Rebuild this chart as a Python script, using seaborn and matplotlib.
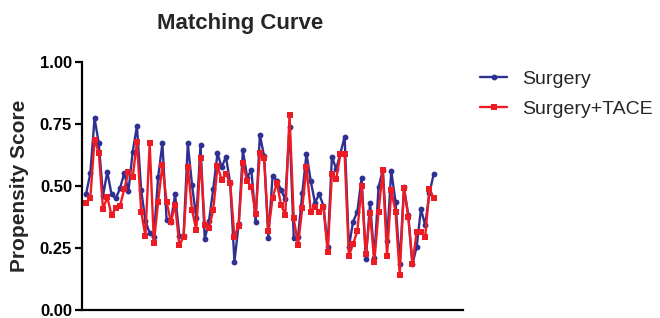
import numpy as np
import pandas as pd
import matplotlib
matplotlib.use("Agg")
import matplotlib.pyplot as plt
import seaborn as sns

title = "Matching Curve"
ylabel = "Propensity Score"
series_names = ["Surgery", "Surgery+TACE"]
yticks = [0.00, 0.25, 0.50, 0.75, 1.00]
ytick_labels = ["0.00", "0.25", "0.50", "0.75", "1.00"]

surgery = [0.468, 0.551, 0.772, 0.671, 0.460, 0.557, 0.467, 0.450, 0.490, 0.552,
           0.480, 0.638, 0.741, 0.483, 0.360, 0.310, 0.296, 0.536, 0.671, 0.363,
           0.355, 0.466, 0.300, 0.300, 0.671, 0.504, 0.370, 0.666, 0.286, 0.360,
           0.488, 0.631, 0.575, 0.618, 0.511, 0.196, 0.347, 0.643, 0.534, 0.564,
           0.357, 0.705, 0.620, 0.290, 0.540, 0.522, 0.484, 0.447, 0.738, 0.290,
           0.296, 0.470, 0.630, 0.520, 0.433, 0.468, 0.420, 0.256, 0.618, 0.568,
           0.631, 0.698, 0.256, 0.357, 0.397, 0.533, 0.205, 0.432, 0.210, 0.495,
           0.565, 0.280, 0.561, 0.437, 0.187, 0.495, 0.385, 0.187, 0.256, 0.407,
           0.343, 0.470, 0.548]
surgery_tace = [0.432, 0.452, 0.686, 0.633, 0.408, 0.456, 0.383, 0.412, 0.420, 0.487,
                0.557, 0.535, 0.678, 0.397, 0.299, 0.671, 0.273, 0.437, 0.584, 0.437,
                0.355, 0.424, 0.263, 0.295, 0.578, 0.403, 0.323, 0.611, 0.345, 0.332,
                0.403, 0.579, 0.525, 0.550, 0.511, 0.296, 0.340, 0.591, 0.520, 0.497,
                0.387, 0.631, 0.613, 0.320, 0.451, 0.514, 0.424, 0.384, 0.785, 0.370,
                0.263, 0.410, 0.578, 0.397, 0.417, 0.397, 0.417, 0.234, 0.550, 0.527,
                0.627, 0.627, 0.220, 0.267, 0.320, 0.500, 0.228, 0.392, 0.196, 0.397,
                0.564, 0.218, 0.483, 0.397, 0.143, 0.493, 0.377, 0.186, 0.317, 0.317,
                0.295, 0.489, 0.451]

n = len(surgery)
idx = list(range(1, n + 1))
df = pd.DataFrame({
    "idx": idx * 2,
    "score": surgery + surgery_tace,
    "group": [series_names[0]] * n + [series_names[1]] * n,
})

sns.set_style("ticks")
plt.rcParams["font.family"] = ["Liberation Sans", "DejaVu Sans"]

fig = plt.figure(figsize=(6.6, 3.18), dpi=100)
ax = fig.add_axes([0.124, 0.0236, 0.578, 0.783])

palette = {series_names[0]: "#2E3192", series_names[1]: "#ED1C24"}
sns.lineplot(data=df, x="idx", y="score", hue="group", style="group",
             hue_order=series_names, style_order=series_names,
             palette=palette, markers={series_names[0]: "o", series_names[1]: "s"},
             dashes=False, linewidth=1.7, markersize=4.2, markeredgewidth=0,
             ax=ax, legend=True)

ax.set_xlim(0, 90)
ax.set_ylim(0, 1)
ax.set_yticks(yticks)
ax.set_yticklabels(ytick_labels, fontsize=12, fontweight="bold")
ax.set_xticks([])
ax.set_xlabel("")
ax.set_ylabel(ylabel, fontsize=15, fontweight="bold", labelpad=8)
for s in ["top", "right"]:
    ax.spines[s].set_visible(False)
for s in ["left", "bottom"]:
    ax.spines[s].set_linewidth(1.6)
    ax.spines[s].set_color("black")
ax.tick_params(axis="y", direction="out", length=5, width=1.6, pad=2, colors="black")

fig.text(240 / 660, 1 - 23 / 318, title, fontsize=16, fontweight="bold",
         ha="center", va="center")

leg = ax.legend(loc="upper left", bbox_to_anchor=(480 / 660, 1 - 70 / 318),
                bbox_transform=fig.transFigure, frameon=False, borderpad=0,
                borderaxespad=0, fontsize=14, handlelength=1.4,
                handletextpad=0.75, labelspacing=0.65)

fig.savefig("out.png", dpi=100)
